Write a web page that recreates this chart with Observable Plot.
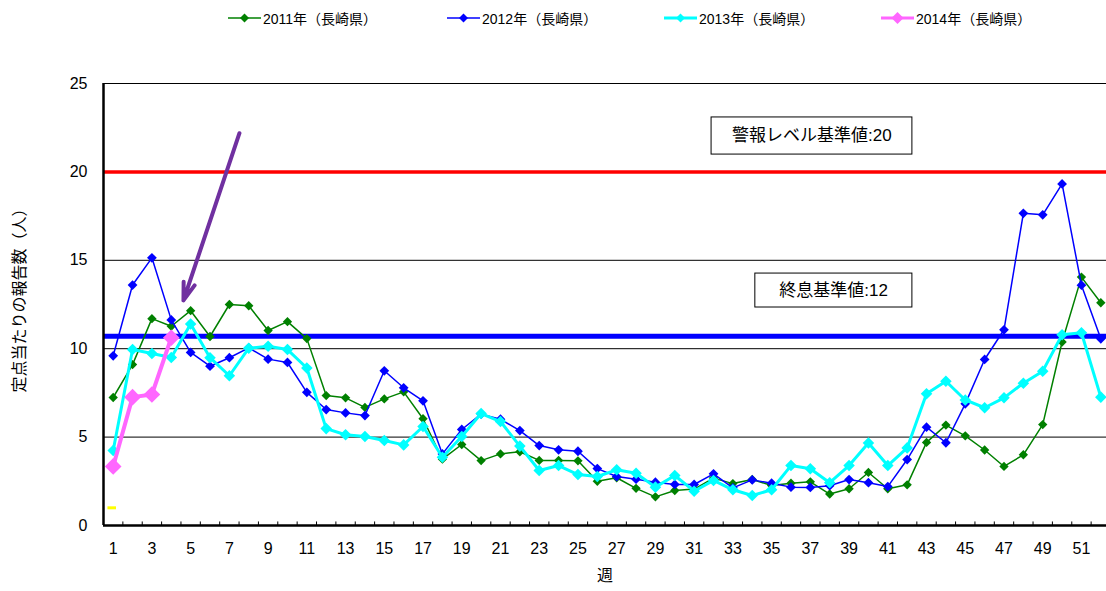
<!DOCTYPE html>
<html>
<head>
<meta charset="utf-8">
<script src="https://cdn.jsdelivr.net/npm/d3@7"></script>
<script src="https://cdn.jsdelivr.net/npm/@observablehq/plot@0.6"></script>
<style>
  html, body { margin: 0; padding: 0; background: #fff; }
  body { width: 1106px; height: 591px; position: relative; overflow: hidden;
         font-family: "Liberation Sans", "Noto Sans CJK JP", sans-serif; }
  #legend { position: absolute; left: 0; top: 0; width: 1106px; height: 36px; }
  .item { position: absolute; top: 8px; height: 20px; display: flex; align-items: center;
          font-size: 14px; color: #000; white-space: nowrap; }
  .item svg { margin-right: 2px; }
  #chart { position: absolute; left: 0; top: 0; }
</style>
</head>
<body>
<div id="chart"></div>
<div id="legend"></div>
<script>
// ---- data ----
const weeks = d3.range(1, 53);
const xTickLabels = [1,3,5,7,9,11,13,15,17,19,21,23,25,27,29,31,33,35,37,39,41,43,45,47,49,51];
const yTickLabels = [0, 5, 10, 15, 20, 25];
const seriesNames = ["2011年（長崎県）", "2012年（長崎県）", "2013年（長崎県）", "2014年（長崎県）"];
const v2011 = [7.24,9.1,11.7,11.27,12.15,10.69,12.5,12.43,11.03,11.53,10.57,7.35,7.22,6.68,7.16,7.56,6.04,3.75,4.58,3.67,4.05,4.17,3.68,3.68,3.66,2.5,2.7,2.1,1.62,1.98,2.06,2.68,2.37,2.6,2.26,2.39,2.47,1.78,2.08,3.0,2.08,2.3,4.7,5.68,5.07,4.27,3.34,4.0,5.71,10.38,14.05,12.6];
const v2012 = [9.6,13.6,15.14,11.63,9.79,9.01,9.49,10.05,9.41,9.22,7.53,6.56,6.37,6.22,8.75,7.79,7.05,4.05,5.43,6.3,6.01,5.37,4.52,4.28,4.2,3.22,2.77,2.62,2.45,2.32,2.32,2.92,2.13,2.58,2.39,2.17,2.15,2.25,2.6,2.42,2.2,3.73,5.56,4.68,6.88,9.39,11.07,17.66,17.57,19.32,13.59,10.56];
const v2013 = [4.24,9.95,9.73,9.5,11.4,9.49,8.47,10.03,10.14,9.95,8.91,5.48,5.13,5.03,4.81,4.56,5.6,3.86,5.03,6.33,5.88,4.49,3.11,3.39,2.88,2.77,3.15,2.96,2.17,2.83,1.94,2.55,2.02,1.7,2.02,3.39,3.21,2.42,3.39,4.67,3.39,4.39,7.45,8.16,7.1,6.66,7.22,8.05,8.73,10.79,10.9,7.26];
const v2014 = [3.34,7.26,7.41,10.62];
const yellowMark = [{w: 1, v: 1}];
const alarmLevel = 20;       // 警報レベル基準値
const endLevelLine = 10.7;   // 終息基準 line as drawn
const alarmText = "警報レベル基準値:20";
const endText = "終息基準値:12";
const yTitle = "定点当たりの報告数（人）";
const xTitle = "週";

// ---- styles ----
const colors = ["#008000", "#0000FF", "#00FFFF", "#FF66FF"];
const widths = [1.5, 1.5, 3, 4];
const radii = [4.2, 4.4, 5.2, 7.5];

const allSeries = [v2011, v2012, v2013, v2014];
const seriesData = allSeries.map((vals, i) => vals.map((v, j) => ({w: weeks[j], v, s: seriesNames[i]})));

// annotation boxes in data coordinates (week, value)
const boxes = [
  {x1: 31.9, x2: 42.27, y1: 20.98, y2: 23.08, cx: 37.08, cy: 22.03, label: alarmText},
  {x1: 34.16, x2: 42.27, y1: 12.33, y2: 14.25, cx: 38.2, cy: 13.29, label: endText}
];
const arrowData = [{x1: 7.52, y1: 22.19, x2: 4.63, y2: 12.73}];
const boundaries = d3.range(1.5, 52.5, 1);

const font = '"Liberation Sans", "Noto Sans CJK JP", sans-serif';

const marks = [
  Plot.ruleY([5, 10, 15, 25], {stroke: "#000", strokeWidth: 1}),
  Plot.ruleY([alarmLevel], {stroke: "#FF0000", strokeWidth: 3.5}),
  Plot.ruleY([endLevelLine], {stroke: "#0000FF", strokeWidth: 5}),
  Plot.ruleX([0.5], {stroke: "#000", strokeWidth: 2.5}),
  Plot.ruleY([0], {stroke: "#000", strokeWidth: 2.5}),
  Plot.ruleX(boundaries, {y1: 0, y2: 0.2, stroke: "#000", strokeWidth: 1}),
  Plot.axisY({ticks: yTickLabels, tickSize: 0, tickPadding: 16, fontSize: 16, label: null}),
  Plot.axisX({ticks: xTickLabels, tickSize: 0, tickPadding: 17, fontSize: 16, label: null}),
  Plot.text([yTitle], {frameAnchor: "left", textAnchor: "middle", dx: -84, dy: -8, rotate: -90, fontSize: 16, fill: "#000"}),
  Plot.text([xTitle], {frameAnchor: "bottom", dy: 55, fontSize: 16, fill: "#000"}),
  Plot.ruleY(yellowMark, {y: "v", x1: d => d.w - 0.27, x2: d => d.w + 0.17, stroke: "#FFFF00", strokeWidth: 3}),
];

seriesData.forEach((data, i) => {
  marks.push(Plot.line(data, {x: "w", y: "v", stroke: colors[i], strokeWidth: widths[i]}));
  marks.push(Plot.dot(data, {x: "w", y: "v", symbol: "diamond2", r: radii[i], fill: colors[i], stroke: "none"}));
});

marks.push(
  Plot.rect(boxes, {x1: "x1", x2: "x2", y1: "y1", y2: "y2", fill: "#fff", stroke: "#000", strokeWidth: 1}),
  Plot.text(boxes, {x: "cx", y: "cy", text: "label", fontSize: 17, fill: "#000"}),
  Plot.arrow(arrowData, {x1: "x1", y1: "y1", x2: "x2", y2: "y2", stroke: "#7030A0", strokeWidth: 4,
    headLength: 7, headAngle: 36, bend: 0, strokeLinejoin: "miter"})
);

const chart = Plot.plot({
  width: 1106,
  height: 591,
  marginTop: 83,
  marginBottom: 66,
  marginLeft: 103,
  marginRight: 0,
  x: {domain: [0.5, 52.5], range: [103, 1110]},
  y: {domain: [0, 25], range: [525, 83]},
  style: {fontFamily: font, fontSize: "16px", color: "#000", background: "#fff"},
  marks
});
document.getElementById("chart").appendChild(chart);

// ---- legend (HTML, above the chart) ----
const legendLeft = [228, 447, 664, 881];
const legend = document.getElementById("legend");
seriesNames.forEach((name, i) => {
  const div = document.createElement("div");
  div.className = "item";
  div.style.left = legendLeft[i] + "px";
  const sw = d3.create("svg").attr("width", 33).attr("height", 20);
  sw.append("line").attr("x1", 0).attr("x2", 33).attr("y1", 10).attr("y2", 10)
    .attr("stroke", colors[i]).attr("stroke-width", Math.min(widths[i], 3));
  const h = i === 3 ? 6 : 4.5;
  sw.append("path").attr("d", `M16.5,${10 - h}L${16.5 + h},10L16.5,${10 + h}L${16.5 - h},10Z`).attr("fill", colors[i]);
  div.appendChild(sw.node());
  const span = document.createElement("span");
  span.textContent = name;
  div.appendChild(span);
  legend.appendChild(div);
});
</script>
</body>
</html>
